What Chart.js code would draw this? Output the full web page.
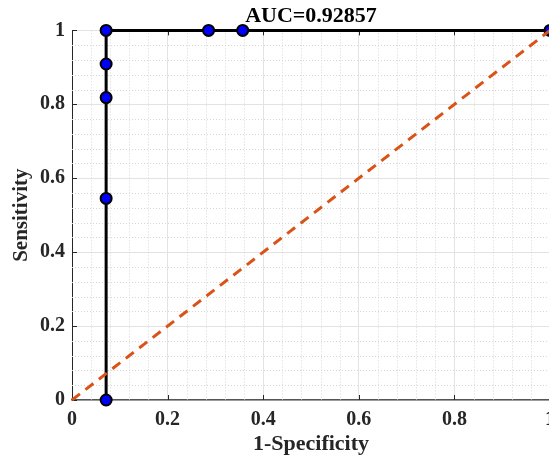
<!DOCTYPE html>
<html>
<head>
<meta charset="utf-8">
<script src="https://cdn.jsdelivr.net/npm/chart.js@4/dist/chart.umd.min.js"></script>
<style>
  html, body { margin: 0; padding: 0; background: #fff; overflow: hidden; }
  canvas { display: block; }
</style>
</head>
<body>
<canvas id="roc" width="560" height="461"></canvas>
<script>
// ROC curve (1-specificity vs sensitivity)
const fpr = [0.0714, 0.0714, 0.0714, 0.0714, 0.0714, 0.2857, 0.3571, 1];
const tpr = [0, 0.5455, 0.8182, 0.9091, 1, 1, 1, 1];

// chance line
const diagX = [0, 1];
const diagY = [0, 1];

const majorTicks = [0, 0.2, 0.4, 0.6, 0.8, 1];
const minorStep = 0.04;
const aucText = 'AUC=0.92857';

const serif = '"Liberation Serif", "Times New Roman", serif';

function toPoints(xs, ys) {
    return xs.map((x, i) => ({ x: x, y: ys[i] }));
}

// dotted minor grid and inward tick marks, MATLAB style
const matlabGrid = {
    id: 'matlabGrid',
    beforeDatasetsDraw(chart) {
        const { ctx, chartArea: a, scales } = chart;
        const xs = scales.x, ys = scales.y;
        ctx.save();
        ctx.strokeStyle = '#d6d6d6';
        ctx.lineWidth = 1;
        ctx.setLineDash([1, 2]);
        for (let k = 1; k < 25; k++) {
            if (k % 5 === 0) continue;
            const v = k * minorStep;
            const px = Math.round(xs.getPixelForValue(v)) + 0.5;
            const py = Math.round(ys.getPixelForValue(v)) + 0.5;
            ctx.beginPath();
            ctx.moveTo(px, a.top); ctx.lineTo(px, a.bottom);
            ctx.moveTo(a.left, py); ctx.lineTo(a.right, py);
            ctx.stroke();
        }
        ctx.setLineDash([]);
        ctx.strokeStyle = '#262626';
        majorTicks.forEach(v => {
            const px = Math.round(xs.getPixelForValue(v)) + 0.5;
            const py = Math.round(ys.getPixelForValue(v)) + 0.5;
            ctx.beginPath();
            ctx.moveTo(px, a.bottom); ctx.lineTo(px, a.bottom - 5);
            ctx.moveTo(px, a.top); ctx.lineTo(px, a.top + 5);
            ctx.moveTo(a.left, py); ctx.lineTo(a.left + 5, py);
            ctx.stroke();
        });
        ctx.restore();
    }
};

const ctx = document.getElementById('roc').getContext('2d');
new Chart(ctx, {
    type: 'scatter',
    data: {
        datasets: [
            {
                label: 'chance',
                data: toPoints(diagX, diagY),
                showLine: true,
                borderColor: '#D95319',
                borderWidth: 3,
                borderDash: [10, 7],
                pointRadius: 0,
                order: 0,
                clip: false
            },
            {
                label: 'ROC',
                data: toPoints(fpr, tpr),
                showLine: true,
                tension: 0,
                borderColor: '#000000',
                borderWidth: 3,
                pointRadius: 5.5,
                pointBackgroundColor: '#0000ff',
                pointBorderColor: '#000000',
                pointBorderWidth: 2,
                order: 1,
                clip: false
            }
        ]
    },
    options: {
        responsive: false,
        animation: false,
        layout: { padding: { left: 0, right: 10, top: 0, bottom: 0 } },
        plugins: {
            legend: { display: false },
            tooltip: { enabled: false },
            title: {
                display: true,
                text: aucText,
                fullSize: false,
                color: '#000000',
                font: { family: serif, size: 22, weight: 'bold' },
                padding: { top: 3, bottom: 1 }
            }
        },
        scales: {
            x: {
                type: 'linear',
                min: 0,
                max: 1,
                afterFit: s => { s.height = 61; s.paddingLeft = 0; s.paddingRight = 0; },
                afterBuildTicks: s => { s.ticks = majorTicks.map(v => ({ value: v })); },
                ticks: {
                    color: '#262626',
                    padding: 8,
                    maxRotation: 0,
                    font: { family: serif, size: 20, weight: 'bold' },
                    callback: v => String(+v.toFixed(1))
                },
                grid: { color: '#e3e3e3', lineWidth: 1, drawTicks: false },
                border: { color: '#555555', width: 1.5 },
                title: {
                    display: true,
                    text: '1-Specificity',
                    color: '#262626',
                    font: { family: serif, size: 22, weight: 'bold' },
                    padding: { top: 0, bottom: 3 }
                }
            },
            y: {
                type: 'linear',
                min: 0,
                max: 1,
                afterFit: s => { s.width = 72; },
                afterBuildTicks: s => { s.ticks = majorTicks.map(v => ({ value: v })); },
                ticks: {
                    color: '#262626',
                    padding: 7,
                    font: { family: serif, size: 20, weight: 'bold' },
                    callback: v => String(+v.toFixed(1))
                },
                grid: { color: '#e3e3e3', lineWidth: 1, drawTicks: false },
                border: { color: '#262626', width: 1 },
                title: {
                    display: true,
                    text: 'Sensitivity',
                    color: '#262626',
                    font: { family: serif, size: 21, weight: 'bold' },
                    padding: { top: 9, bottom: 0 }
                }
            }
        }
    },
    plugins: [matlabGrid]
});
</script>
</body>
</html>
